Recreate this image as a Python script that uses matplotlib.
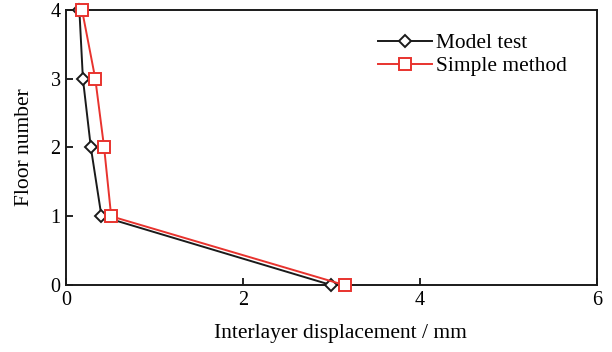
import matplotlib
matplotlib.use("Agg")
import matplotlib.pyplot as plt

floors = [4, 3, 2, 1, 0]
model_test = [0.15, 0.19, 0.28, 0.40, 3.00]
simple_method = [0.18, 0.33, 0.43, 0.51, 3.15]

plt.rcParams['font.family'] = ['Liberation Serif', 'DejaVu Serif']
plt.rcParams['font.size'] = 14

fig = plt.figure(figsize=(6.12, 3.52), dpi=100)
ax = fig.add_axes([0.108, 0.19, 0.867, 0.782])

ax.plot(model_test, floors, color='#1a1a1a', lw=1.4, marker='D', markersize=6.5,
        markerfacecolor='white', markeredgecolor='#1a1a1a', markeredgewidth=1.4,
        label='Model test', clip_on=False, zorder=3)
ax.plot(simple_method, floors, color='#e8332e', lw=1.4, marker='s', markersize=8.5,
        markerfacecolor='white', markeredgecolor='#e8332e', markeredgewidth=1.4,
        label='Simple method', clip_on=False, zorder=4)

ax.set_xlim(0, 6)
ax.set_ylim(0, 4)
ax.set_xticks([0, 2, 4, 6])
ax.set_yticks([0, 1, 2, 3, 4])
ax.tick_params(direction='in', length=5, width=1.2, labelsize=14.5, pad=4)
for s in ax.spines.values():
    s.set_linewidth(1.4)
    s.set_color('#1a1a1a')

ax.set_xlabel('Interlayer displacement / mm', fontsize=15.5, labelpad=11)
ax.xaxis.set_label_coords(0.517, -0.14)
ax.set_ylabel('Floor number', fontsize=15.5, labelpad=12)

ax.legend(loc='upper right', frameon=False, fontsize=15.4, handlelength=2.55,
          handletextpad=0.2, labelspacing=0.15, bbox_to_anchor=(0.981, 0.985))

fig.savefig('out.png', dpi=100)
